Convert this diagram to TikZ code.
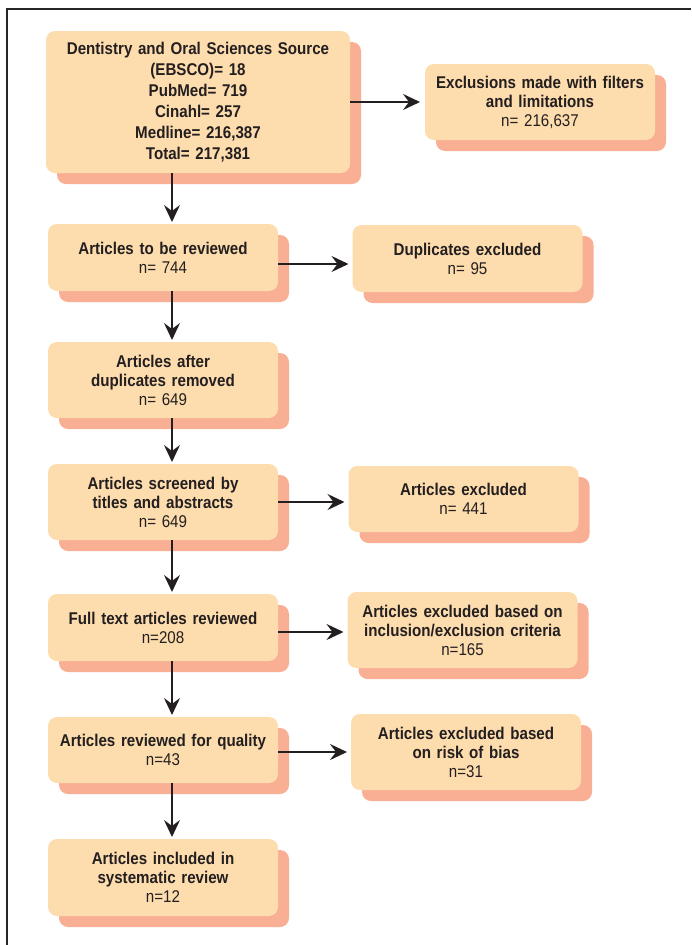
\documentclass[tikz,border=0pt]{standalone}
\usepackage{fontspec}
\setmainfont{Liberation Sans}[FakeStretch=0.89]
\usetikzlibrary{arrows.meta,shadows}
\definecolor{peach}{HTML}{FDDCAD}
\definecolor{salmon}{HTML}{F8AF94}
\definecolor{ink}{HTML}{231F20}

\begin{document}
\begin{tikzpicture}[x=1pt, y=-1pt, >={Stealth[length=17pt,width=16pt,inset=6pt]},
    main node/.style={rectangle, rounded corners=9pt, fill=peach, text=ink, inner sep=0pt, outer sep=0pt,
        minimum width=230pt, text width=226pt, align=center, font=\fontsize{17}{19}\selectfont\bfseries,
        drop shadow={shadow xshift=11pt, shadow yshift=-11pt, fill=salmon, opacity=1}},
    link/.style={->, line width=2pt, ink}]

    \useasboundingbox (0,0) rectangle (691,945);
    \draw[line width=2.2pt, black!85] (691,9) -- (7,9) -- (7,945);

    \node[main node, minimum width=304pt, text width=300pt, minimum height=142pt, font=\fontsize{17}{21}\selectfont\bfseries] at (198,102) (b1) {Dentistry and Oral Sciences Source\\(EBSCO)= 18\\PubMed= 719\\Cinahl= 257\\Medline= 216,387\\Total= 217,381};
    \node[main node, minimum height=76pt] at (540,102) (x1) {Exclusions made with filters\\and limitations\\\mdseries n= 216,637};

    \node[main node, minimum height=67pt] at (163,257.5) (b2) {Articles to be reviewed\\\mdseries n= 744};
    \node[main node, minimum height=67pt] at (467.5,258.5) (x2) {Duplicates excluded\\\mdseries n= 95};

    \node[main node, minimum height=76pt] at (163,380) (b3) {Articles after\\duplicates removed\\\mdseries n= 649};

    \node[main node, minimum height=76pt] at (163,502) (b4) {Articles screened by\\titles and abstracts\\\mdseries n= 649};
    \node[main node, minimum height=66pt] at (463.5,499) (x3) {Articles excluded\\\mdseries n= 441};

    \node[main node, minimum height=67pt] at (163,627.5) (b5) {Full text articles reviewed\\\mdseries n=208};
    \node[main node, minimum height=76pt] at (462.5,630) (x4) {Articles excluded based on\\inclusion/exclusion criteria\\\mdseries n=165};

    \node[main node, minimum height=66pt] at (163,750) (b6) {Articles reviewed for quality\\\mdseries n=43};
    \node[main node, minimum height=76pt] at (466,752) (x5) {Articles excluded based\\on risk of bias\\\mdseries n=31};

    \node[main node, minimum height=77pt] at (163,877.5) (b7) {Articles included in\\systematic review\\\mdseries n=12};

    % down the main column
    \path[link] ([xshift=-26pt]b1.south) edge[shorten >=2pt] ([xshift=9pt]b2.north);
    \path[link] ([xshift=9pt]b2.south) edge[shorten >=2pt] ([xshift=9pt]b3.north);
    \path[link] ([xshift=9pt]b3.south) edge[shorten >=2pt] ([xshift=9pt]b4.north);
    \path[link] ([xshift=9pt]b4.south) edge[shorten >=2pt] ([xshift=9pt]b5.north);
    \path[link] ([xshift=9pt]b5.south) edge[shorten >=2pt] ([xshift=9pt]b6.north);
    \path[link] ([xshift=9pt]b6.south) edge[shorten >=2pt] ([xshift=9pt]b7.north);

    % exclusions
    \path[link] (b1.east) edge[shorten >=5pt] (x1.west);
    \path[link] ([yshift=-6.5pt]b2.east) edge[shorten >=4pt] ([yshift=-5.5pt]x2.west);
    \path[link] (b4.east) edge[shorten >=4pt] ([yshift=-3pt]x3.west);
    \path[link] ([yshift=-4.5pt]b5.east) edge[shorten >=4pt] ([yshift=-2pt]x4.west);
    \path[link] ([yshift=-2pt]b6.east) edge[shorten >=4pt] (x5.west);

\end{tikzpicture}
\end{document}
